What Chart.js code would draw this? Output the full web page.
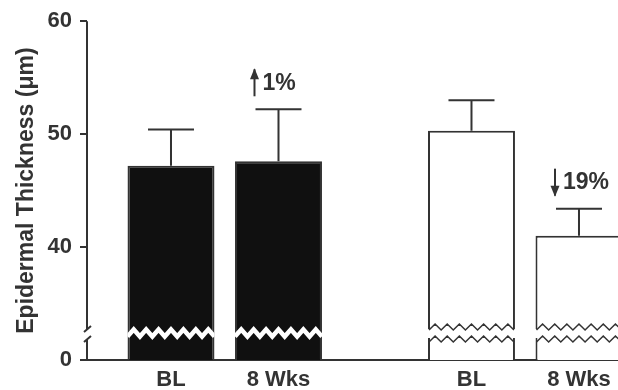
<!DOCTYPE html>
<html>
<head>
<meta charset="utf-8">
<script src="https://cdn.jsdelivr.net/npm/chart.js@4/dist/chart.umd.min.js"></script>
<style>
  html, body { margin: 0; padding: 0; background: #fff; }
  #wrap { width: 618px; height: 390px; }
</style>
</head>
<body>
<div id="wrap"><canvas id="chart"></canvas></div>
<script>
  // two treatment groups, each at baseline and after 8 weeks
  const groups = ['A', 'B'];
  const timepoints = ['BL', '8 Wks'];
  const blMeans = [47.2, 50.3];
  const wk8Means = [47.6, 41.0];
  const blSD = [3.2, 2.7];
  const wk8SD = [4.6, 2.4];
  const changeText = ['1%', '19%'];
  const changeDir = [1, -1];
  const yTicks = [40, 50, 60];
  const axisFloor = 30; // axis is broken, "0" sits here

  const ink = '#333';
  const font = '"Liberation Sans", Arial, sans-serif';
  const groupFill = ['#101010', '#ffffff'];
  const means = [blMeans, wk8Means];
  const sds = [blSD, wk8SD];

  function zigzag(ctx, x0, x1, y0, amp, teeth) {
    const step = (x1 - x0) / (teeth * 2);
    ctx.beginPath();
    for (let k = 0; k <= teeth * 2; k++) {
      const px = x0 + k * step;
      const py = k % 2 ? y0 - amp : y0 + amp;
      if (k === 0) ctx.moveTo(px, py); else ctx.lineTo(px, py);
    }
  }

  const extras = {
    id: 'extras',
    afterDatasetsDraw(chart) {
      const ctx = chart.ctx;
      const y = chart.scales.y;
      const base = y.getPixelForValue(axisFloor);
      const yb = base - 27;

      chart.data.datasets.forEach((ds, di) => {
        chart.getDatasetMeta(di).data.forEach((bar, i) => {
          const left = bar.x - bar.width / 2;
          const right = bar.x + bar.width / 2;

          // break marks through the bars
          ctx.save();
          if (i === 0) {
            ctx.beginPath();
            ctx.rect(left, yb - 12, bar.width, 24);
            ctx.clip();
            zigzag(ctx, left, right, yb, 3.5, 7);
            ctx.strokeStyle = '#fff';
            ctx.lineWidth = 4.5;
            ctx.stroke();
          } else {
            ctx.fillStyle = '#fff';
            ctx.fillRect(left - 1, yb - 4, bar.width + 2, 9);
            ctx.strokeStyle = ink;
            ctx.lineWidth = 1.5;
            zigzag(ctx, left + 1, right - 1, yb - 6, 3, 7);
            ctx.stroke();
            zigzag(ctx, left + 1, right - 1, yb + 6, 3, 7);
            ctx.stroke();
          }
          ctx.restore();

          // error bar, upward only
          const top = y.getPixelForValue(means[di][i] + sds[di][i]);
          ctx.save();
          ctx.strokeStyle = ink;
          ctx.lineWidth = 2;
          ctx.beginPath();
          ctx.moveTo(bar.x, bar.y);
          ctx.lineTo(bar.x, top);
          ctx.moveTo(bar.x - 23, top);
          ctx.lineTo(bar.x + 23, top);
          ctx.stroke();

          // % change above the 8 week bars
          if (di === 1) {
            const ax = bar.x - 24;
            const y0 = top - 40, y1 = top - 13;
            ctx.lineWidth = 2;
            ctx.beginPath();
            ctx.moveTo(ax, y0);
            ctx.lineTo(ax, y1);
            ctx.stroke();
            ctx.fillStyle = ink;
            ctx.beginPath();
            if (changeDir[i] > 0) {
              ctx.moveTo(ax, y0 - 1);
              ctx.lineTo(ax - 4.5, y0 + 10);
              ctx.lineTo(ax + 4.5, y0 + 10);
            } else {
              ctx.moveTo(ax, y1 + 1);
              ctx.lineTo(ax - 4.5, y1 - 10);
              ctx.lineTo(ax + 4.5, y1 - 10);
            }
            ctx.closePath();
            ctx.fill();
            ctx.font = 'bold 23px ' + font;
            ctx.textAlign = 'left';
            ctx.textBaseline = 'middle';
            ctx.fillText(changeText[i], ax + 8, top - 26);
          }

          // category label under each bar
          ctx.fillStyle = ink;
          ctx.font = 'bold 22px ' + font;
          ctx.textAlign = 'center';
          ctx.textBaseline = 'middle';
          ctx.fillText(timepoints[di], bar.x, base + 20);
          ctx.restore();
        });
      });

      // broken y axis line
      const ax = chart.chartArea.left;
      ctx.save();
      ctx.strokeStyle = ink;
      ctx.lineWidth = 2;
      ctx.beginPath();
      ctx.moveTo(ax, chart.chartArea.top);
      ctx.lineTo(ax, base - 31);
      ctx.moveTo(ax, base - 21);
      ctx.lineTo(ax, base);
      ctx.moveTo(ax - 3, base - 28);
      ctx.lineTo(ax + 4, base - 34);
      ctx.moveTo(ax - 3, base - 18);
      ctx.lineTo(ax + 4, base - 24);
      ctx.stroke();
      ctx.restore();
    }
  };

  new Chart(document.getElementById('chart'), {
    type: 'bar',
    data: {
      datasets: timepoints.map((t, di) => ({
        label: t,
        data: means[di].map((v, i) => ({ x: i, y: v })),
        backgroundColor: groupFill,
        borderColor: ink,
        borderWidth: 2,
        categoryPercentage: 0.7155,
        barPercentage: 0.809
      }))
    },
    options: {
      responsive: true,
      maintainAspectRatio: false,
      animation: false,
      layout: { padding: { top: 21, left: 0, right: 0, bottom: 0 } },
      plugins: { legend: { display: false }, tooltip: { enabled: false } },
      scales: {
        x: {
          type: 'linear',
          offset: false,
          min: -0.4584,
          max: 1.3087,
          afterBuildTicks: s => { s.ticks = groups.map((g, i) => ({ value: i })); },
          ticks: { display: false },
          grid: { display: false, drawTicks: false },
          border: { display: true, color: ink, width: 2 },
          afterFit: s => { s.height = 30; }
        },
        y: {
          min: axisFloor,
          max: yTicks[yTicks.length - 1],
          afterBuildTicks: s => { s.ticks = [axisFloor, ...yTicks].map(v => ({ value: v })); },
          ticks: {
            padding: 8,
            color: ink,
            font: { family: font, size: 22, weight: 'bold' },
            callback: v => v === axisFloor ? '0' : v
          },
          grid: { drawOnChartArea: false, drawTicks: true, tickLength: 7, color: ink, lineWidth: 2 },
          border: { display: false },
          title: {
            display: true,
            text: 'Epidermal Thickness (μm)',
            color: ink,
            font: { family: font, size: 23, weight: 'bold' },
            padding: { top: 13, bottom: 0 }
          },
          afterFit: s => { s.width = 87; }
        }
      }
    },
    plugins: [extras]
  });
</script>
</body>
</html>
